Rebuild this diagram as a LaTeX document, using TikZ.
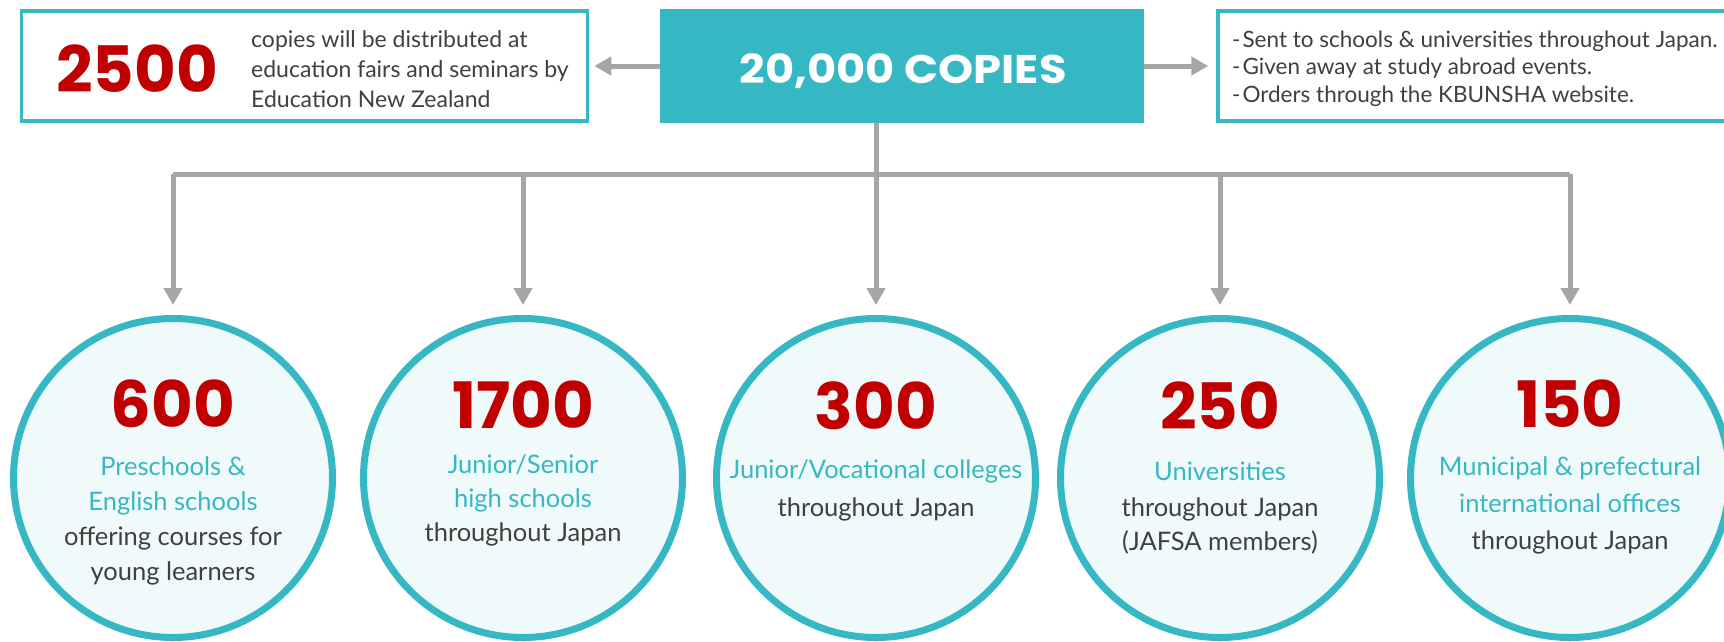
\documentclass[tikz,border=0pt]{standalone}
\usepackage{fontspec}
\setmainfont{Lato}
\newfontfamily\numfont{Poppins}
\newfontfamily\numwide{Poppins}[FakeStretch=1.12]
\usetikzlibrary{arrows.meta}
\definecolor{teal1}{HTML}{35B8C4}
\definecolor{red1}{HTML}{C00000}
\definecolor{grey1}{HTML}{A6A6A6}
\definecolor{dark1}{HTML}{404040}
\definecolor{pale1}{HTML}{F1FAFA}
\begin{document}
\begin{tikzpicture}[x=1pt,y=-1pt,
  tbox/.style={draw=teal1,line width=3.5pt,fill=white,inner sep=0pt},
  circ/.style={circle,draw=teal1,line width=7pt,fill=pale1,minimum size=319pt,inner sep=0pt},
  conn/.style={draw=grey1,line width=5pt},
  arr/.style={conn,-{Triangle[length=17pt,width=18pt]}},
  num/.style={text=red1,font=\numfont\bfseries\fontsize{64}{64}\selectfont,inner sep=0pt,anchor=base},
  tl/.style={text=teal1,font=\fontsize{25.5}{25.5}\selectfont,inner sep=0pt,anchor=base},
  dl/.style={text=dark1,font=\fontsize{25.5}{25.5}\selectfont,inner sep=0pt,anchor=base},
  bt/.style={text=dark1,font=\fontsize{23}{23}\selectfont,inner sep=0pt,anchor=base west},
  rt/.style={text=dark1,font=\fontsize{22.5}{22.5}\selectfont,inner sep=0pt,anchor=base west},
]
\useasboundingbox (0,0) rectangle (1724,641);
\clip (0,0) rectangle (1724,641);

% top boxes
\node[tbox,minimum width=566pt,minimum height=110pt] (lb) at (304.5,66) {};
\node[fill=teal1,minimum width=484pt,minimum height=114pt,inner sep=0pt] (cb) at (902,66) {};
\node[tbox,minimum width=520pt,minimum height=110pt] (rb) at (1478,66) {};

\node[num] (n0) at (137,92) {2500};
\node[bt] (l1) at (251,47) {copies will be distributed at};
\node[bt] (l2) at (251,77) {education fairs and seminars by};
\node[bt] (l3) at (251,107) {Education New Zealand};

\node[text=white,font=\numwide\bfseries\fontsize{40}{40}\selectfont,inner sep=0pt,anchor=base] (ct) at (903,83) {20,000 COPIES};

\node[rt] (r1) at (1232,47) {-\hspace{2pt}Sent to schools \& universities throughout Japan.};
\node[rt] (r2) at (1232,74) {-\hspace{2pt}Given away at study abroad events.};
\node[rt] (r3) at (1232,102) {-\hspace{2pt}Orders through the KBUNSHA website.};

% circles
\node[circ] (c1) at (173,478) {};
\node[circ] (c2) at (523,478) {};
\node[circ] (c3) at (876,478) {};
\node[circ] (c4) at (1220,478) {};
\node[circ] (c5) at (1570,478) {};

% connectors
\coordinate (hub) at (876,174);
\coordinate (j1) at (173,174);
\coordinate (j2) at (523,174);
\coordinate (j4) at (1220,174);
\coordinate (j5) at (1570,174);
\draw[conn] (hub |- cb.south) -- (hub);
\draw[conn] (j1) -- (j5);
\draw[arr,shorten >=10pt] (j1) -- (c1.north);
\draw[arr,shorten >=10pt] (j2) -- (c2.north);
\draw[arr,shorten >=10pt] (hub) -- (c3.north);
\draw[arr,shorten >=10pt] (j4) -- (c4.north);
\draw[arr,shorten >=10pt] (j5) -- (c5.north);
\draw[arr,shorten >=5pt] (cb.west) -- (lb.east);
\draw[arr,shorten >=8pt] (cb.east) -- (rb.west);

% circle texts
\node[num] (n1) at (173,427) {600};
\node[tl] (t1a) at (173,475) {Preschools \&};
\node[tl] (t1b) at (173,510) {English schools};
\node[dl] (d1a) at (173,545) {offering courses for};
\node[dl] (d1b) at (173,580) {young learners};

\node[num] (n2) at (523,428) {1700};
\node[tl] (t2a) at (523,473) {Junior/Senior};
\node[tl] (t2b) at (523,507) {high schools};
\node[dl] (d2a) at (523,541) {throughout Japan};

\node[num] (n3) at (876,429) {300};
\node[tl] (t3a) at (876,478) {Junior/Vocational colleges};
\node[dl] (d3a) at (876,516) {throughout Japan};

\node[num] (n4) at (1220,429) {250};
\node[tl] (t4a) at (1220,480) {Universities};
\node[dl] (d4a) at (1220,516) {throughout Japan};
\node[dl] (d4b) at (1220,550) {(JAFSA members)};

\node[num] (n5) at (1570,427) {150};
\node[tl] (t5a) at (1570,475) {Municipal \& prefectural};
\node[tl] (t5b) at (1570,512) {international offices};
\node[dl] (d5a) at (1570,549) {throughout Japan};
\end{tikzpicture}
\end{document}
